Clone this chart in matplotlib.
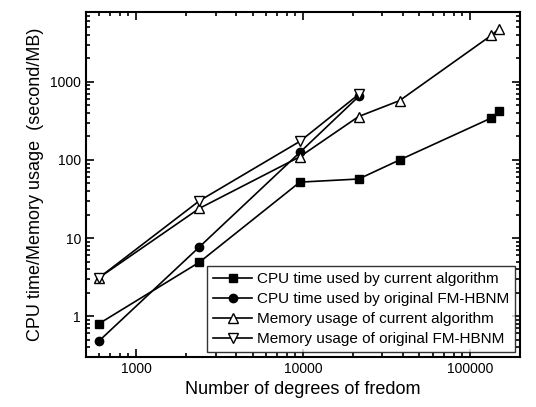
import matplotlib
matplotlib.use("Agg")
import matplotlib.pyplot as plt
from matplotlib.ticker import LogLocator, FixedLocator, FixedFormatter, NullFormatter

plt.rcParams['font.family'] = ['Liberation Sans', 'DejaVu Sans']

# degrees of freedom
dof_cur = [600, 2400, 9600, 21600, 38000, 135000, 150000]
dof_orig = [600, 2400, 9600, 21600]

# CPU time (s) and memory (MB)
cpu_cur = [0.80, 4.9, 52, 57, 100, 345, 425]
cpu_orig = [0.48, 7.7, 125, 650]
mem_cur = [3.1, 24, 110, 360, 575, 3950, 4800]
mem_orig = [3.1, 30, 173, 690]

labels = ['CPU time used by current algorithm',
          'CPU time used by original FM-HBNM',
          'Memory usage of current algorithm',
          'Memory usage of original FM-HBNM']

fig = plt.figure(figsize=(5.36, 4.07), dpi=100)
ax = fig.add_axes([0.160, 0.123, 0.810, 0.847])

ms = 6
ax.plot(dof_cur, cpu_cur, '-s', color='black', ms=ms, lw=1.2, label=labels[0])
ax.plot(dof_orig, cpu_orig, '-o', color='black', ms=ms, lw=1.2, label=labels[1])
ax.plot(dof_cur, mem_cur, '-^', color='black', mfc='white', ms=7, lw=1.2, label=labels[2])
ax.plot(dof_orig, mem_orig, '-v', color='black', mfc='white', ms=7, lw=1.2, label=labels[3])

ax.set_xscale('log')
ax.set_yscale('log')
ax.set_xlim(500, 200000)
ax.set_ylim(0.3, 7800)

ax.xaxis.set_major_locator(FixedLocator([1000, 10000, 100000]))
ax.xaxis.set_major_formatter(FixedFormatter(['1000', '10000', '100000']))
ax.xaxis.set_minor_locator(LogLocator(base=10, subs=range(2, 10)))
ax.xaxis.set_minor_formatter(NullFormatter())
ax.yaxis.set_major_locator(FixedLocator([1, 10, 100, 1000]))
ax.yaxis.set_major_formatter(FixedFormatter(['1', '10', '100', '1000']))
ax.yaxis.set_minor_locator(LogLocator(base=10, subs=range(2, 10)))
ax.yaxis.set_minor_formatter(NullFormatter())

ax.tick_params(which='both', direction='in', top=True, right=True, width=1.2)
ax.tick_params(which='major', length=6, labelsize=10)
ax.tick_params(which='minor', length=3)
for s in ax.spines.values():
    s.set_linewidth(1.5)

ax.set_xlabel('Number of degrees of fredom', fontsize=13)
ax.set_ylabel('CPU time/Memory usage  (second/MB)', fontsize=13)

leg = ax.legend(loc='lower right', fontsize=11, frameon=True, fancybox=False,
                edgecolor='black', handlelength=2.6, borderpad=0.4,
                labelspacing=0.4, handletextpad=0.3, borderaxespad=0.3)
leg.get_frame().set_linewidth(1.0)

fig.savefig('out.png', dpi=100)
